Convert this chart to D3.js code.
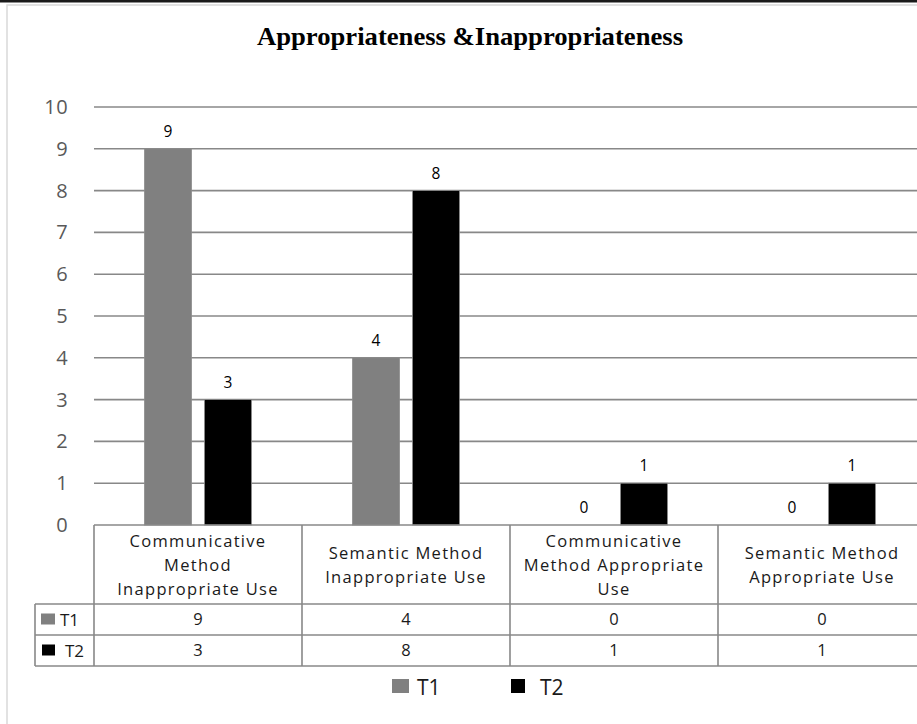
<!DOCTYPE html>
<html>
<head>
<meta charset="utf-8">
<script src="https://cdn.jsdelivr.net/npm/d3@7"></script>
<style>
  html, body { margin: 0; padding: 0; background: #fff; }
  svg { display: block; }
</style>
</head>
<body>
<svg id="chart" width="917" height="724"></svg>
<script>
// Categories (table header cells, one line per entry)
const categories = [
  ["Communicative", "Method", "Inappropriate Use"],
  ["Semantic Method", "Inappropriate Use"],
  ["Communicative", "Method Appropriate", "Use"],
  ["Semantic Method", "Appropriate Use"]
];
const categoryKeys = ["CMIU", "SMIU", "CMAU", "SMAU"];
const seriesNames = ["T1", "T2"];
const t1Values = [9, 4, 0, 0];
const t2Values = [3, 8, 1, 1];
const yTicks = [0, 1, 2, 3, 4, 5, 6, 7, 8, 9, 10];
const seriesColors = ["#808080", "#000000"];

const svg = d3.select("#chart");
const W = 917, H = 724;

// frame
svg.append("rect").attr("x", 0).attr("y", 0).attr("width", W).attr("height", 2.5).attr("fill", "#1a1a1a");
svg.append("rect").attr("x", 7).attr("y", 5).attr("width", W + 20).attr("height", H + 20)
  .attr("fill", "none").attr("stroke", "#d9d9d9").attr("stroke-width", 1.5);

// title
svg.append("text")
  .attr("x", 470).attr("y", 45)
  .attr("text-anchor", "middle")
  .attr("font-family", "Liberation Serif, Times New Roman, serif")
  .attr("font-weight", "bold")
  .attr("font-size", 26)
  .attr("textLength", 426)
  .attr("lengthAdjust", "spacingAndGlyphs")
  .text("Appropriateness &Inappropriateness");

const plotLeft = 94, plotRight = 926, plotTop = 107, plotBottom = 525;

const x = d3.scaleBand().domain(categoryKeys).range([plotLeft, plotRight]).padding(0);
const xs = d3.scaleBand().domain(seriesNames).range([0, x.bandwidth()])
  .paddingInner(13 / 60).paddingOuter(0.842);
const y = d3.scaleLinear().domain([0, 10]).range([plotBottom, plotTop]);

const gridColor = "#888888";
const font = "Open Sans, sans-serif";

// gridlines
svg.append("g").selectAll("line").data(yTicks.filter(d => d > 0)).join("line")
  .attr("x1", plotLeft).attr("x2", plotRight)
  .attr("y1", d => y(d)).attr("y2", d => y(d))
  .attr("stroke", gridColor).attr("stroke-width", 1.6);

// y axis labels
const yAxis = d3.axisLeft(y).tickValues(yTicks).tickSize(0).tickPadding(0).tickFormat(d3.format("d"));
const yg = svg.append("g").attr("transform", `translate(${plotLeft - 26},0)`).call(yAxis);
yg.select(".domain").remove();
yg.selectAll("text")
  .attr("font-family", font)
  .attr("font-size", 20)
  .attr("fill", "#595959")
  .attr("letter-spacing", 0.4);

// bars
const series = [t1Values, t2Values];
const barG = svg.append("g");
series.forEach((vals, si) => {
  barG.selectAll(null).data(vals.map((v, i) => ({ v, k: categoryKeys[i] }))).join("rect")
    .attr("x", d => x(d.k) + xs(seriesNames[si]))
    .attr("width", xs.bandwidth())
    .attr("y", d => y(d.v))
    .attr("height", d => y(0) - y(d.v))
    .attr("fill", seriesColors[si])
    .attr("stroke", "#8c8c8c")
    .attr("stroke-width", d => d.v > 0 ? 0.8 : 0);
  barG.selectAll(null).data(vals.map((v, i) => ({ v, k: categoryKeys[i] }))).join("text")
    .attr("x", d => x(d.k) + xs(seriesNames[si]) + xs.bandwidth() / 2)
    .attr("y", d => y(d.v) - 12)
    .attr("text-anchor", "middle")
    .attr("font-family", font)
    .attr("font-size", 15.5)
    .attr("fill", "#000")
    .text(d => d.v);
});

// data table
const rowTop = 604, rowH = 31, tableLeft = 35;
const tbl = svg.append("g");
const lineAttrs = sel => sel.attr("stroke", gridColor).attr("stroke-width", 1.6);
tbl.append("line").attr("x1", plotLeft).attr("x2", plotRight).attr("y1", plotBottom).attr("y2", plotBottom).call(lineAttrs);
[rowTop, rowTop + rowH, rowTop + 2 * rowH].forEach(yy => {
  tbl.append("line").attr("x1", tableLeft).attr("x2", plotRight).attr("y1", yy).attr("y2", yy).call(lineAttrs);
});
categoryKeys.forEach(k => {
  tbl.append("line").attr("x1", x(k)).attr("x2", x(k)).attr("y1", plotBottom).attr("y2", rowTop + 2 * rowH).call(lineAttrs);
});
tbl.append("line").attr("x1", tableLeft).attr("x2", tableLeft).attr("y1", rowTop).attr("y2", rowTop + 2 * rowH).call(lineAttrs);

// header texts
categories.forEach((lines, i) => {
  const cx = x(categoryKeys[i]) + x.bandwidth() / 2;
  const cy = (plotBottom + rowTop) / 2 + 1;
  const lh = 24;
  const t = tbl.append("text")
    .attr("text-anchor", "middle")
    .attr("font-family", font)
    .attr("font-size", 16.5)
    .attr("letter-spacing", 1.3)
    .attr("fill", "#1a1a1a");
  lines.forEach((ln, j) => {
    t.append("tspan")
      .attr("x", cx)
      .attr("y", cy + (j - (lines.length - 1) / 2) * lh)
      .attr("dy", "0.35em")
      .text(ln);
  });
});

// row values and row keys
series.forEach((vals, si) => {
  const cy = rowTop + rowH * si + rowH / 2;
  vals.forEach((v, i) => {
    tbl.append("text")
      .attr("x", x(categoryKeys[i]) + x.bandwidth() / 2)
      .attr("y", cy).attr("dy", "0.36em")
      .attr("text-anchor", "middle")
      .attr("font-family", font)
      .attr("font-size", 16.5)
      .attr("fill", "#1a1a1a")
      .text(v);
  });
  tbl.append("rect")
    .attr("x", si === 0 ? 41 : 42).attr("y", cy - 6)
    .attr("width", si === 0 ? 14 : 13).attr("height", 11)
    .attr("fill", seriesColors[si]);
  tbl.append("text")
    .attr("x", si === 0 ? 60 : 65).attr("y", cy).attr("dy", "0.36em")
    .attr("font-family", font)
    .attr("font-size", 17)
    .attr("fill", "#1a1a1a")
    .text(seriesNames[si]);
});

// legend
const legendItems = [
  { name: seriesNames[0], color: seriesColors[0], sx: 392, tx: 417 },
  { name: seriesNames[1], color: seriesColors[1], sx: 511, tx: 540 }
];
const lg = svg.append("g");
legendItems.forEach(it => {
  lg.append("rect").attr("x", it.sx).attr("y", 679).attr("width", it.sx === 392 ? 17 : 14).attr("height", 14).attr("fill", it.color);
  lg.append("text").attr("x", it.tx).attr("y", 687).attr("dy", "0.36em")
    .attr("font-family", font)
    .attr("font-size", 21)
    .attr("fill", "#1a1a1a")
    .text(it.name);
});
</script>
</body>
</html>
